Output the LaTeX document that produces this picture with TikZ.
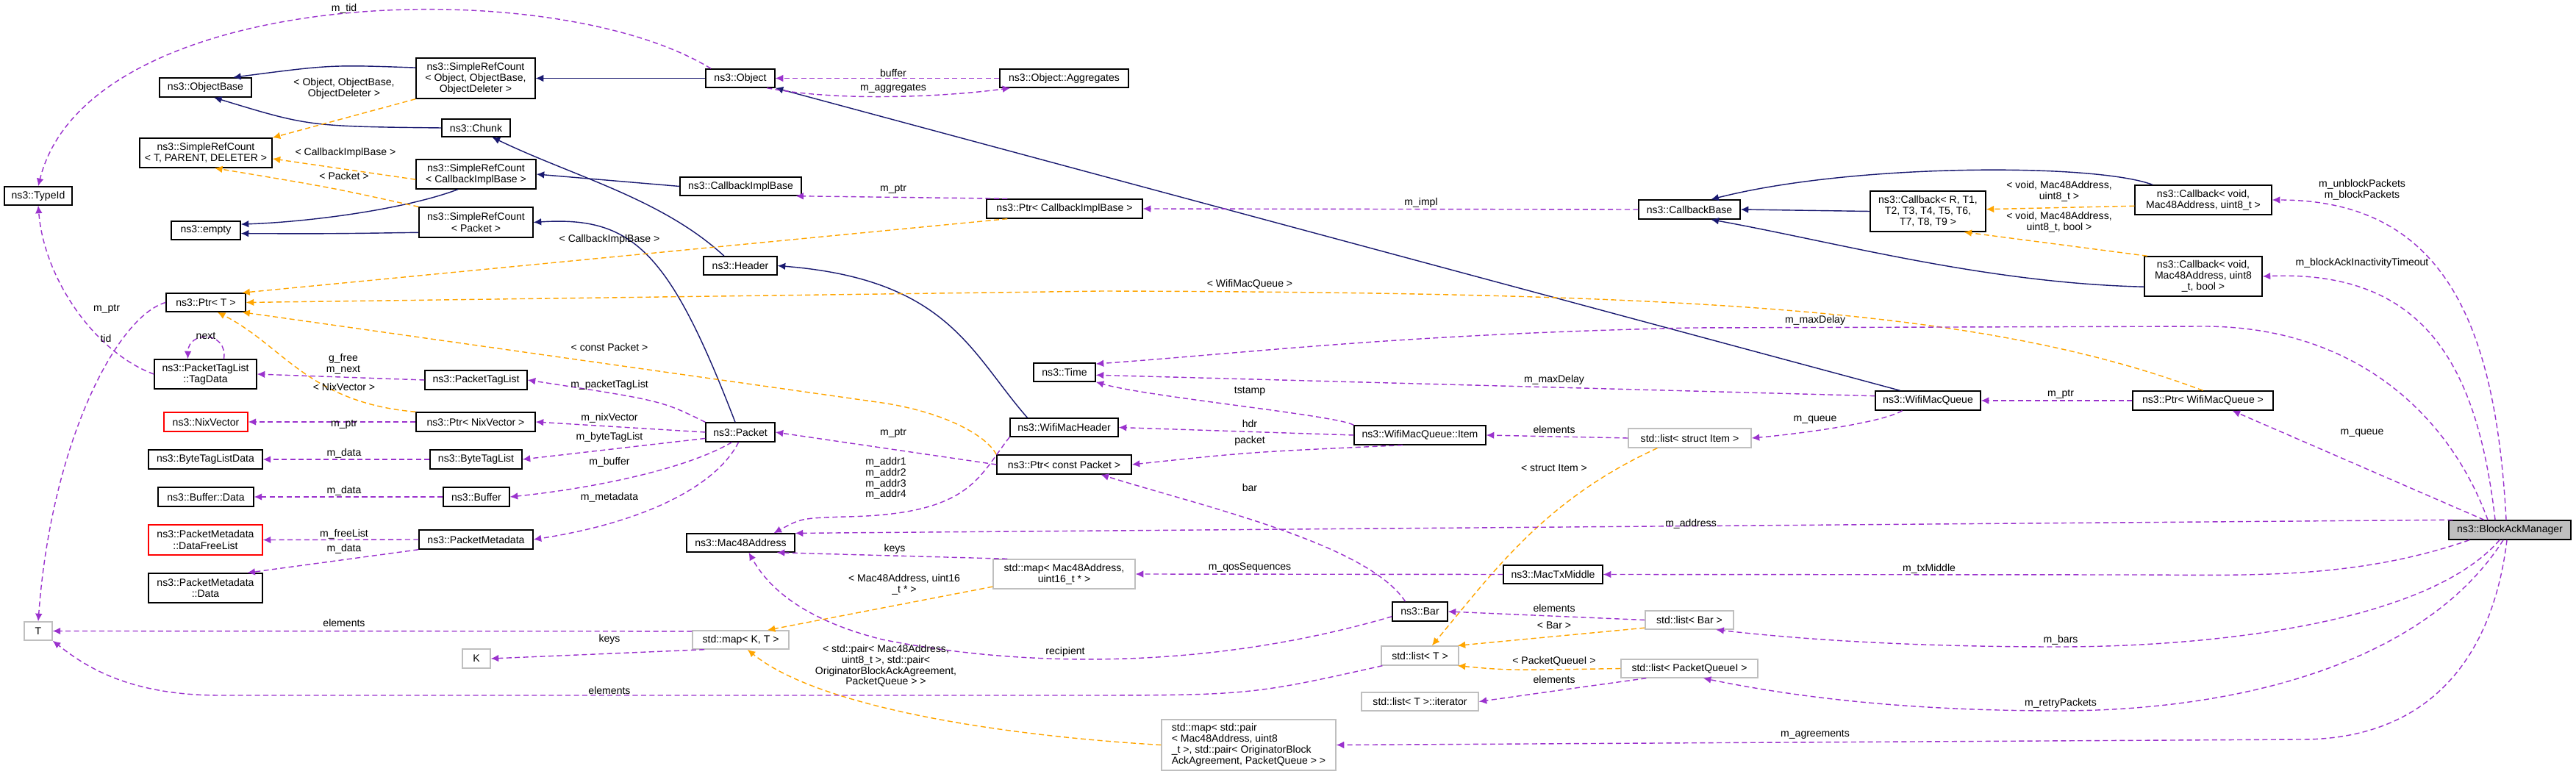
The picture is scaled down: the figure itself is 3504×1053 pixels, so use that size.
\documentclass[tikz,border=0pt]{standalone}
\usepackage{fontspec}
\setmainfont{Liberation Sans}
\usetikzlibrary{arrows.meta,calc}
\definecolor{navy}{HTML}{191970}
\definecolor{purp}{HTML}{9A32CD}
\definecolor{orng}{HTML}{FFA500}
\definecolor{lgray}{HTML}{BFBFBF}
\newcommand\bx[7]{\node[#6, minimum width={(#4-#2)*0.02cm}, minimum height={(#5-#3)*0.02cm}] (#1) at ({(#2+#4)/2},{(#3+#5)/2}) {#7};}
\newcommand\lb[3]{\node[lbl] (#1) at (#2) {#3};}
\begin{document}
\begin{tikzpicture}[x=0.02cm,y=-0.02cm,
  font=\fontsize{8}{8.6}\selectfont,
  cls/.style={draw=black,line width=0.8pt,fill=white,inner sep=1pt,align=center},
  gcls/.style={draw=lgray,line width=0.8pt,fill=white,inner sep=1pt,align=center},
  rcls/.style={draw=red,line width=0.8pt,fill=white,inner sep=1pt,align=center},
  bam/.style={draw=black,line width=0.8pt,fill=lgray,inner sep=1pt,align=center},
  lbl/.style={inner sep=0pt,align=center,font=\fontsize{8}{8.4}\selectfont},
  inh/.style={draw=navy,line width=0.8pt,-{Latex[length=6pt,width=5.5pt]}},
  tmpl/.style={draw=orng,line width=0.8pt,dash pattern=on 4pt off 2.5pt,-{Latex[length=6pt,width=5.5pt]}},
  use/.style={draw=purp,line width=0.8pt,dash pattern=on 4pt off 2.5pt,-{Latex[length=6pt,width=5.5pt]}}]
\useasboundingbox (0,0) rectangle (3504,1053);
% nodes
\bx{TypeId}{6}{254}{98}{279}{cls}{ns3::TypeId}
\bx{ObjectBase}{217}{106}{342}{132}{cls}{ns3::ObjectBase}
\bx{SRCObj}{566}{79}{728}{134}{cls}{ns3::SimpleRefCount\\< Object, ObjectBase,\\ ObjectDeleter >}
\bx{Object}{960}{94}{1054}{119}{cls}{ns3::Object}
\bx{Aggr}{1360}{94}{1535}{119}{cls}{ns3::Object::Aggregates}
\bx{Chunk}{601}{162}{694}{186}{cls}{ns3::Chunk}
\bx{SRCT}{190}{188}{370}{228}{cls}{ns3::SimpleRefCount\\< T, PARENT, DELETER >}
\bx{SRCCB}{566}{217}{729}{257}{cls}{ns3::SimpleRefCount\\< CallbackImplBase >}
\bx{CIB}{925}{241}{1090}{266}{cls}{ns3::CallbackImplBase}
\bx{PtrCIB}{1342}{271}{1554}{297}{cls}{ns3::Ptr< CallbackImplBase >}
\bx{CBB}{2229}{272}{2367}{298}{cls}{ns3::CallbackBase}
\bx{CBR}{2544}{260}{2701}{315}{cls}{ns3::Callback< R, T1,\\ T2, T3, T4, T5, T6,\\ T7, T8, T9 >}
\bx{CBU}{2904}{252}{3090}{292}{cls}{ns3::Callback< void,\\ Mac48Address, uint8\_t >}
\bx{CBB2}{2917}{349}{3077}{403}{cls}{ns3::Callback< void,\\ Mac48Address, uint8\\\_t, bool >}
\bx{empty}{233}{301}{327}{326}{cls}{ns3::empty}
\bx{SRCP}{570}{282}{725}{323}{cls}{ns3::SimpleRefCount\\< Packet >}
\bx{Header}{957}{349}{1057}{374}{cls}{ns3::Header}
\bx{PtrT}{226}{399}{334}{424}{cls}{ns3::Ptr< T >}
\bx{Time}{1406}{494}{1490}{519}{cls}{ns3::Time}
\bx{TagData}{210}{489}{349}{529}{cls}{ns3::PacketTagList\\::TagData}
\bx{PTL}{578}{504}{717}{530}{cls}{ns3::PacketTagList}
\bx{WMQ}{2551}{532}{2694}{558}{cls}{ns3::WifiMacQueue}
\bx{PtrWMQ}{2901}{532}{3092}{558}{cls}{ns3::Ptr< WifiMacQueue >}
\bx{NixV}{223}{561}{337}{587}{rcls}{ns3::NixVector}
\bx{PtrNix}{566}{561}{728}{587}{cls}{ns3::Ptr< NixVector >}
\bx{WMH}{1374}{569}{1521}{594}{cls}{ns3::WifiMacHeader}
\bx{Packet}{960}{575}{1054}{601}{cls}{ns3::Packet}
\bx{Item}{1842}{579}{2021}{605}{cls}{ns3::WifiMacQueue::Item}
\bx{LItem}{2215}{583}{2382}{609}{gcls}{std::list< struct Item >}
\bx{BTLD}{202}{612}{357}{638}{cls}{ns3::ByteTagListData}
\bx{BTL}{585}{612}{710}{638}{cls}{ns3::ByteTagList}
\bx{PtrCP}{1356}{619}{1539}{645}{cls}{ns3::Ptr< const Packet >}
\bx{BufD}{215}{663}{345}{689}{cls}{ns3::Buffer::Data}
\bx{Buf}{603}{663}{693}{689}{cls}{ns3::Buffer}
\bx{DFL}{202}{714}{357}{755}{rcls}{ns3::PacketMetadata\\::DataFreeList}
\bx{PMD}{570}{721}{725}{747}{cls}{ns3::PacketMetadata}
\bx{Mac}{934}{726}{1081}{751}{cls}{ns3::Mac48Address}
\bx{BAM}{3331}{708}{3497}{734}{bam}{ns3::BlockAckManager}
\bx{MapMac}{1351}{761}{1544}{801}{gcls}{std::map< Mac48Address,\\ uint16\_t * >}
\bx{TxM}{2045}{769}{2180}{794}{cls}{ns3::MacTxMiddle}
\bx{PMData}{202}{780}{357}{820}{cls}{ns3::PacketMetadata\\::Data}
\bx{Bar}{1894}{819}{1969}{845}{cls}{ns3::Bar}
\bx{LBar}{2238}{831}{2358}{856}{gcls}{std::list< Bar >}
\bx{T}{33}{846}{71}{871}{gcls}{T}
\bx{MapKT}{942}{858}{1073}{883}{gcls}{std::map< K, T >}
\bx{LT}{1879}{879}{1984}{905}{gcls}{std::list< T >}
\bx{K}{629}{883}{667}{909}{gcls}{K}
\bx{LPQ}{2205}{897}{2391}{922}{gcls}{std::list< PacketQueueI >}
\bx{LIt}{1852}{942}{2011}{967}{gcls}{std::list< T >::iterator}
\node[gcls,align=left,minimum width={237*0.02cm},minimum height={69*0.02cm}] (MapPair) at (1698.5,1013.5) {std::map< std::pair\\< Mac48Address, uint8\\\_t >, std::pair< OriginatorBlock\\AckAgreement, PacketQueue > >};
% inheritance
\draw[inh] (SRCObj.170) .. controls (450,88) .. (ObjectBase.20);
\draw[inh] (Object.west) -- (SRCObj.east);
\draw[inh] (Chunk.west) .. controls (420,172) .. (ObjectBase.-50);
\draw[inh] (SRCCB.-140) .. controls (550,285) and (420,302) .. (empty.10);
\draw[inh] (SRCP.-170) .. controls (450,318) .. (empty.-5);
\draw[inh] (CIB.west) -- (SRCCB.east);
\draw[inh] ($(Header.north)+(-22,0)$) .. controls (900,270) and (780,240) .. (Chunk.-30);
\draw[inh] ($(Packet.north)+(-7,0)$) .. controls (910,340) and (860,294) .. (SRCP.east);
\draw[inh] ($(WMH.north)+(-50,0)$) .. controls (1320,480) and (1290,380) .. (Header.east);
\draw[inh] ($(WMQ.north)+(-38,0)$) -- (Object.south east);
\draw[inh] ($(CBU.north)+(-69,0)$) .. controls (2850,222) and (2520,222) .. (CBB.25);
\draw[inh] (CBR.west) -- (CBB.east);
\draw[inh] (CBB2.-170) .. controls (2700,385) and (2500,330) .. (CBB.-25);
% template
\draw[tmpl] (SRCObj.south west) -- (SRCT.north east);
\draw[tmpl] (SRCCB.185) -- (SRCT.-5);
\draw[tmpl] (SRCP.north west) .. controls (450,255) .. (SRCT.-60);
\draw[tmpl] (PtrCIB.-170) -- (PtrT.15);
\draw[tmpl] (PtrWMQ.north) .. controls (2700,420) and (2300,398) .. (1500,396) -- (PtrT.east);
\draw[tmpl] (PtrCP.north west) .. controls (1340,590) and (1280,560) .. (1200,548) -- (PtrT.-15);
\draw[tmpl] (PtrNix.north west) .. controls (420,548) and (385,470) .. (PtrT.-40);
\draw[tmpl] (MapMac.-170) -- (MapKT.20);
\draw[tmpl] (MapPair.west) .. controls (1350,1000) and (1110,960) .. (MapKT.-55);
\draw[tmpl] ($(LItem.south west)+(40,0)$) .. controls (2100,680) and (2030,780) .. (LT.40);
\draw[tmpl] (LBar.-170) -- (LT.15);
\draw[tmpl] (LPQ.west) .. controls (2050,912) .. (LT.-15);
\draw[tmpl] (CBU.-175) -- (CBR.2);
\draw[tmpl] (CBB2.160) -- (CBR.-30);
% usage
\draw[use] ($(Object.north)+(-40,0)$) .. controls (750,-40) and (120,-20) .. (TypeId.north);
\draw[use] (Aggr.west) -- (Object.east);
\draw[use] (Object.-20) .. controls (1150,140) and (1300,130) .. ($(Aggr.south west)+(15,0)$);
\draw[use] (PtrCIB.170) -- (CIB.-10);
\draw[use] (CBB.west) -- (PtrCIB.east);
\draw[use] (PtrT.west) .. controls (160,430) and (70,600) .. (T.north);
\draw[use] (TagData.west) .. controls (130,480) and (60,380) .. (TypeId.south);
\draw[use] ($(TagData.north)+(25,0)$) .. controls (310,450) and (256,450) .. ($(TagData.north)+(-24,0)$);
\draw[use] (PTL.west) -- (TagData.east);
\draw[use] (Packet.north west) .. controls (900,545) .. (PTL.east);
\draw[use] (PtrNix.west) -- (NixV.east);
\draw[use] (Packet.west) -- (PtrNix.east);
\draw[use] (Packet.-170) -- (BTL.east);
\draw[use] (BTL.west) -- (BTLD.east);
\draw[use] (Packet.-130) .. controls (930,640) and (800,665) .. (Buf.east);
\draw[use] (Buf.west) -- (BufD.east);
\draw[use] (Packet.-100) .. controls (975,660) and (880,710) .. (PMD.east);
\draw[use] (PMD.west) -- (DFL.east);
\draw[use] (PMD.south west) -- (PMData.20);
\draw[use] (MapKT.170) -- (T.east);
\draw[use] (MapKT.-165) -- (K.east);
\draw[use] (LT.-165) .. controls (1700,946) .. (1450,946) -- (300,946) .. controls (180,946) and (120,910) .. (T.south east);
\draw[use] (WMH.-170) .. controls (1330,650) and (1320,700) .. (1150,703) .. controls (1090,705) .. ($(Mac.north)+(45,0)$);
\draw[use] (Item.north west) .. controls (1820,565) and (1560,540) .. (Time.south east);
\draw[use] (WMQ.175) -- (Time.-5);
\draw[use] ($(BAM.north)+(-30,0)$) .. controls (3330,560) and (3200,445) .. (3000,444) -- (2300,446) .. controls (1900,455) and (1700,480) .. (Time.15);
\draw[use] (Item.west) -- (WMH.east);
\draw[use] (Item.-150) .. controls (1700,615) .. (PtrCP.east);
\draw[use] (LItem.west) -- (Item.east);
\draw[use] ($(WMQ.south)+(-35,0)$) .. controls (2560,575) and (2450,590) .. (LItem.east);
\draw[use] (PtrWMQ.west) -- (WMQ.east);
\draw[use] ($(BAM.north)+(-35,0)$) -- ($(PtrWMQ.south)+(40,0)$);
\draw[use] (BAM.170) -- (Mac.10);
\draw[use] (PtrCP.west) -- (Packet.east);
\draw[use] ($(Bar.north)+(-20,0)$) .. controls (1860,740) and (1640,690) .. ($(PtrCP.south)+(50,0)$);
\draw[use] (Bar.-170) .. controls (1650,910) and (1400,910) .. (1200,870) .. controls (1080,840) and (1040,790) .. ($(Mac.south)+(11,0)$);
\draw[use] (MapMac.165) -- (Mac.-15);
\draw[use] (TxM.west) -- (MapMac.east);
\draw[use] ($(BAM.south)+(-55,0)$) .. controls (3200,790) and (3050,782) .. (2900,782) -- (TxM.east);
\draw[use] (LBar.west) -- (Bar.east);
\draw[use] ($(BAM.south)+(-14,0)$) .. controls (3300,850) and (3000,880) .. (2800,880) .. controls (2600,880) and (2450,870) .. (LBar.-20);
\draw[use] ($(BAM.south)+(-9,0)$) .. controls (3300,900) and (3050,967) .. (2800,967) .. controls (2600,967) and (2450,950) .. (LPQ.-35);
\draw[use] ($(LPQ.south west)+(35,0)$) .. controls (2150,935) .. (LIt.east);
\draw[use] ($(BAM.south)+(-4,0)$) .. controls (3390,900) and (3300,1006) .. (3130,1006) -- (MapPair.east);
\draw[use] ($(BAM.north)+(-5,0)$) .. controls (3395,450) and (3330,272) .. (CBU.east);
\draw[use] ($(BAM.north)+(-20,0)$) .. controls (3370,500) and (3300,367) .. (CBB2.east);
% labels
\lb{l1}{468,12}{m\_tid}
\lb{l2}{468,120}{< Object, ObjectBase,\\ObjectDeleter >}
\lb{l3}{470,208}{< CallbackImplBase >}
\lb{l4}{468,239}{< Packet >}
\lb{l5}{1215,99}{buffer}
\lb{l6}{1215,120}{m\_aggregates}
\lb{l7}{1215,257}{m\_ptr}
\lb{l8}{1933,276}{m\_impl}
\lb{l9}{829,326}{< CallbackImplBase >}
\lb{l10}{1700,387}{< WifiMacQueue >}
\lb{l11}{2469,436}{m\_maxDelay}
\lb{l12}{829,472}{< const Packet >}
\lb{l13}{145,420}{m\_ptr}
\lb{l14}{144,460}{tid}
\lb{l15}{280,457}{next}
\lb{l16}{467,495}{g\_free\\m\_next}
\lb{l17}{829,524}{m\_packetTagList}
\lb{l18}{468,526}{< NixVector >}
\lb{l19}{1700,532}{tstamp}
\lb{l20}{2114,517}{m\_maxDelay}
\lb{l21}{2803,536}{m\_ptr}
\lb{l22}{2469,571}{m\_queue}
\lb{l23}{1215,589}{m\_ptr}
\lb{l24}{829,569}{m\_nixVector}
\lb{l25}{468,577}{m\_ptr}
\lb{l26}{1700,576}{hdr}
\lb{l27}{2114,584}{elements}
\lb{l28}{3213,589}{m\_queue}
\lb{l29}{829,595}{m\_byteTagList}
\lb{l30}{1700,600}{packet}
\lb{l31}{468,617}{m\_data}
\lb{l32}{1205,651}{m\_addr1\\m\_addr2\\m\_addr3\\m\_addr4}
\lb{l33}{829,629}{m\_buffer}
\lb{l34}{2114,637}{< struct Item >}
\lb{l35}{1700,663}{bar}
\lb{l36}{468,668}{m\_data}
\lb{l37}{829,677}{m\_metadata}
\lb{l38}{2300,713}{m\_address}
\lb{l39}{468,727}{m\_freeList}
\lb{l40}{468,747}{m\_data}
\lb{l41}{1217,747}{keys}
\lb{l42}{1700,772}{m\_qosSequences}
\lb{l43}{2624,774}{m\_txMiddle}
\lb{l44}{1230,795}{< Mac48Address, uint16\\\_t * >}
\lb{l45}{2114,827}{elements}
\lb{l46}{468,847}{elements}
\lb{l47}{2114,851}{< Bar >}
\lb{l48}{2803,871}{m\_bars}
\lb{l49}{829,870}{keys}
\lb{l50}{1449,887}{recipient}
\lb{l51}{1205,906}{< std::pair< Mac48Address,\\uint8\_t >, std::pair<\\OriginatorBlockAckAgreement,\\PacketQueue > >}
\lb{l52}{2114,900}{< PacketQueueI >}
\lb{l53}{2114,924}{elements}
\lb{l54}{829,939}{elements}
\lb{l55}{2803,957}{m\_retryPackets}
\lb{l56}{2469,999}{m\_agreements}
\lb{l57}{2801,260}{< void, Mac48Address,\\uint8\_t >}
\lb{l58}{2801,302}{< void, Mac48Address,\\uint8\_t, bool >}
\lb{l59}{3213,258}{m\_unblockPackets\\m\_blockPackets}
\lb{l60}{3213,358}{m\_blockAckInactivityTimeout}
\end{tikzpicture}
\end{document}
